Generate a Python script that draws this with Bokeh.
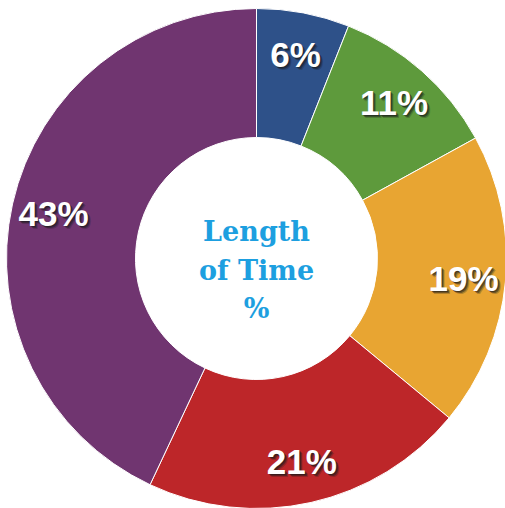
import numpy as np
from bokeh.plotting import figure
from bokeh.models import ColumnDataSource, Range1d
from bokeh.core.properties import value
from bokeh.embed import file_html
from bokeh.resources import INLINE

# data
categories = ["A", "B", "C", "D", "E"]
shares = [6, 11, 19, 21, 43]
labels = ["6%", "11%", "19%", "21%", "43%"]
colors = ["#2e5189", "#5e9a3c", "#e8a532", "#bd2629", "#703570"]
center_lines = ["Length", "of Time", "%"]

W, H = 505, 508
cx, cy = 256, 250
r_out, r_in, r_lab = 250, 121, 208

frac = np.array(shares, dtype=float) / sum(shares)
cum = np.concatenate([[0], np.cumsum(frac)])
start = np.pi / 2 - 2 * np.pi * cum[:-1]
end = np.pi / 2 - 2 * np.pi * cum[1:]
mid = (start + end) / 2

src = ColumnDataSource(dict(
    cat=categories, start=start, end=end, color=colors, label=labels,
    lx=cx + r_lab * np.cos(mid), ly=cy + r_lab * np.sin(mid),
))

p = figure(width=W, height=H, output_backend="svg", toolbar_location=None,
           x_range=Range1d(0, W), y_range=Range1d(0, H), min_border=0,
           match_aspect=False)
p.axis.visible = False
p.grid.visible = False
p.outline_line_color = None
p.background_fill_color = "white"

p.annular_wedge(x=cx, y=cy, inner_radius=r_in, outer_radius=r_out,
                start_angle="start", end_angle="end", direction="clock",
                fill_color="color", line_color="white", line_width=1,
                source=src)

for dx, dy, a in [(3, 3, 0.25), (2, 2, 0.45), (1, 1, 0.5)]:
    p.text(x="lx", y="ly", text="label", source=src, text_color="#1a1a1a",
           text_alpha=a, x_offset=dx, y_offset=dy,
           text_font=value("Liberation Sans"), text_font_style="bold",
           text_font_size="35px", text_align="center", text_baseline="middle")
p.text(x="lx", y="ly", text="label", source=src, text_color="white",
       text_font=value("Liberation Sans"), text_font_style="bold",
       text_font_size="35px", text_align="center", text_baseline="middle")

cy_lines = [cy + 27, cy - 12, cy - 50]
p.text(x=[cx] * 3, y=cy_lines, text=center_lines, text_color="#1d9fe0",
       text_font=value("DejaVu Serif"), text_font_style="bold",
       text_font_size="27px", text_align="center", text_baseline="middle")

open("out.html", "w").write(file_html(p, INLINE))
